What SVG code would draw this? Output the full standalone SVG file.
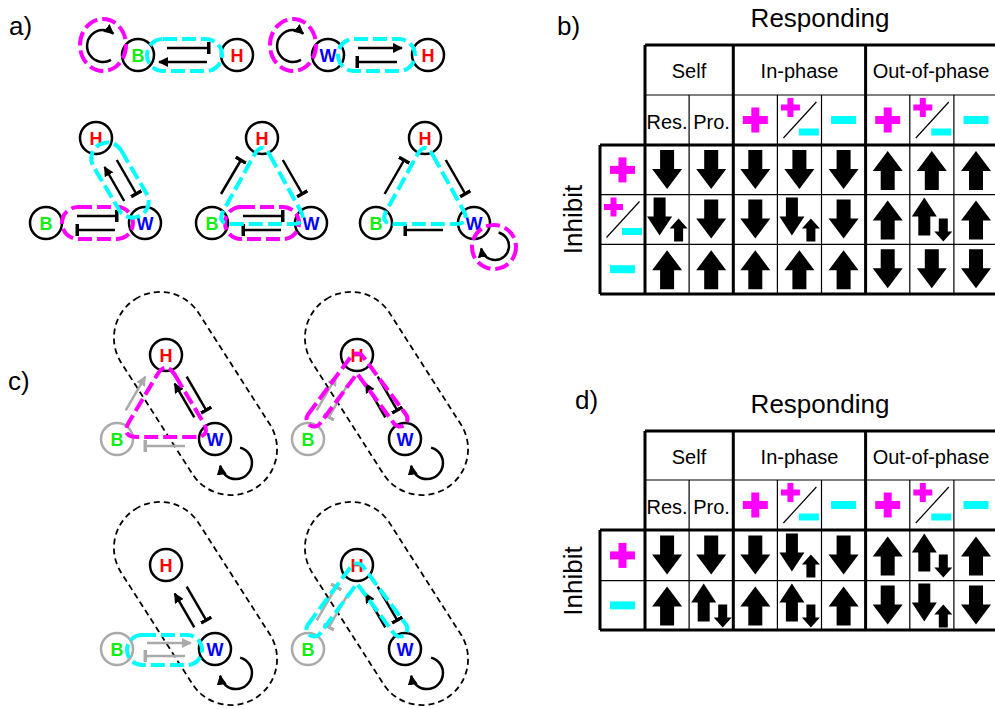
<svg xmlns="http://www.w3.org/2000/svg" width="995" height="709" viewBox="0 0 995 709">
<style>
text{font-family:"Liberation Sans",Arial,sans-serif;fill:#000}
.nd{fill:#fff;stroke:#000;stroke-width:2.5}
.gn{fill:#fff;stroke:#aaa;stroke-width:2.5}
.lb{font-weight:bold;font-size:18px;text-anchor:middle}
.B{fill:#11ee11}.H{fill:#ff0000}.W{fill:#0000ff}
.e{stroke:#000;stroke-width:2.5;fill:none}
.g{stroke:#aaa;stroke-width:2.5;fill:none}
.ar{marker-end:url(#ah)}
.tb{marker-end:url(#tee)}
.gar{marker-end:url(#ahg)}
.gtb{marker-end:url(#teeg)}
.mg{stroke:#ff00ff;stroke-width:4;fill:none;stroke-dasharray:14 5}
.cy{stroke:#00ffff;stroke-width:4;fill:none;stroke-dasharray:14 5}
.cp{stroke:#000;stroke-width:1.8;fill:none;stroke-dasharray:6 4}
.big{font-size:26px}
.hd{font-size:20px;text-anchor:middle}
.tk{stroke:#000;stroke-width:3;fill:none}
.tn{stroke:#000;stroke-width:1.2;fill:none}
</style>
<defs>
<marker id="ah" viewBox="0 0 10 10" refX="9" refY="5" markerWidth="10" markerHeight="10" markerUnits="userSpaceOnUse" orient="auto"><path d="M0,0 L10,5 L0,10 z" fill="#000"/></marker>
<marker id="ahg" viewBox="0 0 10 10" refX="9" refY="5" markerWidth="10" markerHeight="10" markerUnits="userSpaceOnUse" orient="auto"><path d="M0,0 L10,5 L0,10 z" fill="#aaa"/></marker>
<marker id="tee" viewBox="0 0 4 12" refX="2" refY="6" markerWidth="4" markerHeight="12" markerUnits="userSpaceOnUse" orient="auto"><rect x="0" y="0" width="3.5" height="12" fill="#000"/></marker>
<marker id="teeg" viewBox="0 0 4 12" refX="2" refY="6" markerWidth="4" markerHeight="12" markerUnits="userSpaceOnUse" orient="auto"><rect x="0" y="0" width="3.5" height="12" fill="#aaa"/></marker>
<path id="dn" d="M-7,-20H7V-1H15L0,19L-15,-1H-7Z" fill="#000"/>
<path id="up" d="M-7,20H7V1H15L0,-19L-15,1H-7Z" fill="#000"/>
<path id="dnup" d="M-13.5,-22H-1.5V-3H5L-7.5,16L-20,-3H-13.5Z M11.5,-1L20.5,9H16V22H7V9H2.5Z" fill="#000"/>
<path id="updn" d="M-7.5,-22L5,-3H-1.5V16H-13.5V-3H-20Z M7,-1H16V12H20.5L11.5,22L2.5,12H7Z" fill="#000"/>
<g id="plus" fill="#ff00ff"><rect x="-12.5" y="-4" width="25" height="8"/><rect x="-4" y="-12.5" width="8" height="25"/></g>
<rect id="minus" x="-12.5" y="-4" width="25" height="8" fill="#00ffff"/>
<g id="frac"><g fill="#ff00ff" transform="translate(-9,-12.5)"><rect x="-9.5" y="-3" width="19" height="6"/><rect x="-3" y="-9.5" width="6" height="19"/></g><line x1="-16" y1="18" x2="17" y2="-18" stroke="#000" stroke-width="1.2"/><rect x="-0.5" y="8.5" width="20" height="7" fill="#00ffff"/></g>
</defs>

<!-- panel labels -->
<text class="big" x="9" y="35">a)</text>
<text class="big" x="557" y="35">b)</text>
<text class="big" x="8" y="390">c)</text>
<text class="big" x="575" y="409">d)</text>

<!-- ============ PANEL A ============ -->
<g id="connectors-a">
  <path class="e tb" d="M167,48 H209"/>
  <path class="e ar" d="M207,62 H159"/>
  <path class="e ar" d="M111,59.9 A16,16 0 1 1 113.3,33.7"/>
  <path class="e ar" d="M358,48 H402"/>
  <path class="e tb" d="M397,62 H357"/>
  <path class="e ar" d="M301,59.9 A16,16 0 1 1 303.3,33.7"/>
  <!-- triangle 1 -->
  <path class="e tb" d="M77,216 H117"/>
  <path class="e tb" d="M115,230 H77"/>
  <path class="e ar" d="M124.2,201 L104.6,167"/>
  <path class="e tb" d="M116.8,160 L136.4,194"/>
  <!-- triangle 2 -->
  <path class="e tb" d="M243,216 H283"/>
  <path class="e tb" d="M281,230 H243"/>
  <path class="e tb" d="M221,194 L241,160"/>
  <path class="e tb" d="M282.8,160 L302.4,194"/>
  <!-- triangle 3 -->
  <path class="e tb" d="M384.6,194 L404.2,160"/>
  <path class="e tb" d="M445.8,160 L465.4,194"/>
  <path class="e tb" d="M443,230 H405"/>
  <path class="e ar" d="M498.6,232.5 A14,14 0 1 1 481.2,248.4"/>
</g>
<g id="a1-B"><circle class="nd" cx="138" cy="55" r="16"/><text class="lb B" x="138" y="61.5">B</text></g>
<g id="a1-H"><circle class="nd" cx="237" cy="55" r="16"/><text class="lb H" x="237" y="61.5">H</text></g>
<g id="a2-W"><circle class="nd" cx="328" cy="55" r="16"/><text class="lb W" x="328" y="61.5">W</text></g>
<g id="a2-H"><circle class="nd" cx="428" cy="55" r="16"/><text class="lb H" x="428" y="61.5">H</text></g>
<g id="a3-B"><circle class="nd" cx="46" cy="223" r="16"/><text class="lb B" x="46" y="229.5">B</text></g>
<g id="a3-H"><circle class="nd" cx="96" cy="138" r="16"/><text class="lb H" x="96" y="144.5">H</text></g>
<g id="a3-W"><circle class="nd" cx="145" cy="223" r="16"/><text class="lb W" x="145" y="229.5">W</text></g>
<g id="a4-B"><circle class="nd" cx="212" cy="223" r="16"/><text class="lb B" x="212" y="229.5">B</text></g>
<g id="a4-H"><circle class="nd" cx="262" cy="138" r="16"/><text class="lb H" x="262" y="144.5">H</text></g>
<g id="a4-W"><circle class="nd" cx="311" cy="223" r="16"/><text class="lb W" x="311" y="229.5">W</text></g>
<g id="a5-B"><circle class="nd" cx="376" cy="223" r="16"/><text class="lb B" x="376" y="229.5">B</text></g>
<g id="a5-H"><circle class="nd" cx="425" cy="138" r="16"/><text class="lb H" x="425" y="144.5">H</text></g>
<g id="a5-W"><circle class="nd" cx="474" cy="223" r="16"/><text class="lb W" x="474" y="229.5">W</text></g>
<g id="loops-a">
  <ellipse class="mg" cx="103" cy="45" rx="23" ry="26"/>
  <rect class="cy" x="147" y="39" width="75" height="32" rx="16"/>
  <ellipse class="mg" cx="293" cy="45" rx="23" ry="26"/>
  <rect class="cy" x="338" y="39" width="77" height="32" rx="16"/>
  <rect class="mg" x="62" y="207" width="71" height="32" rx="16"/>
  <rect class="cy" x="-41" y="-16" width="82" height="32" rx="16" transform="translate(120,180) rotate(59.5)"/>
  <rect class="mg" x="225" y="207" width="74" height="32" rx="16"/>
  <path class="cy" d="M269.8,155 L300.2,210 Q308,224 292,224 L232,224 Q216,224 223.8,210 L254.2,155 Q262,141 269.8,155 Z"/>
  <path class="cy" d="M432.8,155 L463.2,210 Q471,224 455,224 L395,224 Q379,224 386.8,210 L417.2,155 Q425,141 432.8,155 Z"/>
  <circle class="mg" cx="494" cy="247" r="22"/>
</g>

<!-- ============ PANEL C ============ -->
<g id="capsules-c">
  <rect class="cp" x="-46" y="-112" width="92" height="224" rx="46" transform="translate(195.5,393.5) rotate(-32.6)"/>
  <rect class="cp" x="-46" y="-112" width="92" height="224" rx="46" transform="translate(386.5,393.5) rotate(-32.6)"/>
  <rect class="cp" x="-46" y="-112" width="92" height="224" rx="46" transform="translate(195.5,603.5) rotate(-32.6)"/>
  <rect class="cp" x="-46" y="-112" width="92" height="224" rx="46" transform="translate(386.5,603.5) rotate(-32.6)"/>
</g>
<g id="connectors-c">
  <!-- c1 -->
  <path class="g gar" d="M125.7,410.3 L145.3,376.7"/>
  <path class="g gtb" d="M185,446 H145"/>
  <path class="e ar" d="M194.3,417.3 L174.7,383.7"/>
  <path class="e tb" d="M186.7,376.7 L206.3,410.3"/>
  <path class="e ar" d="M240.1,447.6 A16,16 0 1 1 220.2,465.8"/>
  <!-- c2 -->
  <path class="g gar" d="M316.7,410.3 L336.3,376.7"/>
  <path class="g gtb" d="M348.3,383.7 L328.7,417.3"/>
  <path class="e ar" d="M385.3,417.3 L365.7,383.7"/>
  <path class="e tb" d="M377.7,376.7 L397.3,410.3"/>
  <path class="e ar" d="M431.1,447.6 A16,16 0 1 1 411.2,465.8"/>
  <!-- c3 -->
  <path class="e ar" d="M194.3,627.3 L174.7,593.7"/>
  <path class="e tb" d="M186.7,586.7 L206.3,620.3"/>
  <path class="g gar" d="M147,643 H191"/>
  <path class="g gtb" d="M185,656 H145"/>
  <path class="e ar" d="M240.1,657.6 A16,16 0 1 1 220.2,675.8"/>
  <!-- c4 -->
  <path class="g gtb" d="M316.7,620.3 L336.3,586.7"/>
  <path class="g gtb" d="M348.3,593.7 L328.7,627.3"/>
  <path class="e ar" d="M385.3,627.3 L365.7,593.7"/>
  <path class="e tb" d="M377.7,586.7 L397.3,620.3"/>
  <path class="e ar" d="M431.1,657.6 A16,16 0 1 1 411.2,675.8"/>
</g>
<g id="c1-B"><circle class="gn" cx="117" cy="439" r="16"/><text class="lb B" x="117" y="445.5">B</text></g>
<g id="c1-H"><circle class="nd" cx="166" cy="355" r="16"/><text class="lb H" x="166" y="361.5">H</text></g>
<g id="c1-W"><circle class="nd" cx="215" cy="439" r="16"/><text class="lb W" x="215" y="445.5">W</text></g>
<g id="c2-B"><circle class="gn" cx="308" cy="439" r="16"/><text class="lb B" x="308" y="445.5">B</text></g>
<g id="c2-H"><circle class="nd" cx="357" cy="355" r="16"/><text class="lb H" x="357" y="361.5">H</text></g>
<g id="c2-W"><circle class="nd" cx="405" cy="439" r="16"/><text class="lb W" x="405" y="445.5">W</text></g>
<g id="c3-B"><circle class="gn" cx="117" cy="649" r="16"/><text class="lb B" x="117" y="655.5">B</text></g>
<g id="c3-H"><circle class="nd" cx="166" cy="565" r="16"/><text class="lb H" x="166" y="571.5">H</text></g>
<g id="c3-W"><circle class="nd" cx="215" cy="649" r="16"/><text class="lb W" x="215" y="655.5">W</text></g>
<g id="c4-B"><circle class="gn" cx="308" cy="649" r="16"/><text class="lb B" x="308" y="655.5">B</text></g>
<g id="c4-H"><circle class="nd" cx="357" cy="565" r="16"/><text class="lb H" x="357" y="571.5">H</text></g>
<g id="c4-W"><circle class="nd" cx="405" cy="649" r="16"/><text class="lb W" x="405" y="655.5">W</text></g>
<g id="loops-c">
  <path class="mg" d="M175.2,375.4 L202.8,421.6 Q212,437 194,437 L138,437 Q120,437 129.2,421.6 L156.8,375.4 Q166,360 175.2,375.4 Z"/>
  <path class="mg" d="M308,414.5 L351,356.5 A7.5,7.5 0 0 1 363,356.5 L406,414.5 A7.5,7.5 0 0 1 394,423.5 L357,373.6 L320,423.5 A7.5,7.5 0 0 1 308,414.5 Z"/>
  <rect class="cy" x="127" y="635" width="75" height="30" rx="15"/>
  <path class="cy" d="M308,624.5 L351,566.5 A7.5,7.5 0 0 1 363,566.5 L406,624.5 A7.5,7.5 0 0 1 394,633.5 L357,583.6 L320,633.5 A7.5,7.5 0 0 1 308,624.5 Z"/>
</g>

<!-- ============ TABLE B ============ -->
<g id="table-b">
  <text class="big" x="820" y="27" text-anchor="middle">Responding</text>
  <text class="big" transform="translate(582,219.5) rotate(-90)" text-anchor="middle">Inhibit</text>
  <path class="tn" d="M645,95 H998 M689.1,95 V294 M777.4,95 V294 M821.5,95 V294 M909.8,95 V294 M953.9,95 V294 M600,194.7 H998 M600,244.3 H998"/>
  <path class="tk" d="M645,45 H998 M645,45 V294 M733.3,45 V294 M865.6,45 V294 M600,145 H998 M600,294 H998 M600,145 V294 M998,45 V294"/>
  <text class="hd" x="689" y="78">Self</text>
  <text class="hd" x="799.5" y="78">In-phase</text>
  <text class="hd" x="931" y="78">Out-of-phase</text>
  <text class="hd" x="667" y="129">Res.</text>
  <text class="hd" x="711.5" y="129">Pro.</text>
  <use href="#plus" x="755.3" y="120"/><use href="#frac" x="799.4" y="120"/><use href="#minus" x="843.6" y="120"/>
  <use href="#plus" x="887.7" y="120"/><use href="#frac" x="931.8" y="120"/><use href="#minus" x="976" y="120"/>
  <use href="#plus" x="622.5" y="169.9"/><use href="#frac" x="622.5" y="219.5"/><use href="#minus" x="622.5" y="269.2"/>
  <use href="#dn" x="667.1" y="169.9"/><use href="#dn" x="711.2" y="169.9"/><use href="#dn" x="755.3" y="169.9"/><use href="#dn" x="799.4" y="169.9"/><use href="#dn" x="843.6" y="169.9"/><use href="#up" x="887.7" y="169.9"/><use href="#up" x="931.8" y="169.9"/><use href="#up" x="976" y="169.9"/>
  <use href="#dnup" x="667.1" y="219.5"/><use href="#dn" x="711.2" y="219.5"/><use href="#dn" x="755.3" y="219.5"/><use href="#dnup" x="799.4" y="219.5"/><use href="#dn" x="843.6" y="219.5"/><use href="#up" x="887.7" y="219.5"/><use href="#updn" x="931.8" y="219.5"/><use href="#up" x="976" y="219.5"/>
  <use href="#up" x="667.1" y="269.2"/><use href="#up" x="711.2" y="269.2"/><use href="#up" x="755.3" y="269.2"/><use href="#up" x="799.4" y="269.2"/><use href="#up" x="843.6" y="269.2"/><use href="#dn" x="887.7" y="269.2"/><use href="#dn" x="931.8" y="269.2"/><use href="#dn" x="976" y="269.2"/>
</g>

<!-- ============ TABLE D ============ -->
<g id="table-d">
  <text class="big" x="820" y="413" text-anchor="middle">Responding</text>
  <text class="big" transform="translate(582,581) rotate(-90)" text-anchor="middle">Inhibit</text>
  <path class="tn" d="M645,480 H998 M689.1,480 V630 M777.4,480 V630 M821.5,480 V630 M909.8,480 V630 M953.9,480 V630 M600,580.7 H998"/>
  <path class="tk" d="M645,431 H998 M645,431 V630 M733.3,431 V630 M865.6,431 V630 M600,530 H998 M600,630 H998 M600,530 V630 M998,431 V630"/>
  <text class="hd" x="689" y="464">Self</text>
  <text class="hd" x="799.5" y="464">In-phase</text>
  <text class="hd" x="931" y="464">Out-of-phase</text>
  <text class="hd" x="667" y="514">Res.</text>
  <text class="hd" x="711.5" y="514">Pro.</text>
  <use href="#plus" x="755.3" y="505"/><use href="#frac" x="799.4" y="505"/><use href="#minus" x="843.6" y="505"/>
  <use href="#plus" x="887.7" y="505"/><use href="#frac" x="931.8" y="505"/><use href="#minus" x="976" y="505"/>
  <use href="#plus" x="622.5" y="555.4"/><use href="#minus" x="622.5" y="605.4"/>
  <use href="#dn" x="667.1" y="555.4"/><use href="#dn" x="711.2" y="555.4"/><use href="#dn" x="755.3" y="555.4"/><use href="#dnup" x="799.4" y="555.4"/><use href="#dn" x="843.6" y="555.4"/><use href="#up" x="887.7" y="555.4"/><use href="#updn" x="931.8" y="555.4"/><use href="#up" x="976" y="555.4"/>
  <use href="#up" x="667.1" y="605.4"/><use href="#updn" x="711.2" y="605.4"/><use href="#up" x="755.3" y="605.4"/><use href="#updn" x="799.4" y="605.4"/><use href="#up" x="843.6" y="605.4"/><use href="#dn" x="887.7" y="605.4"/><use href="#dnup" x="931.8" y="605.4"/><use href="#dn" x="976" y="605.4"/>
</g>
</svg>
